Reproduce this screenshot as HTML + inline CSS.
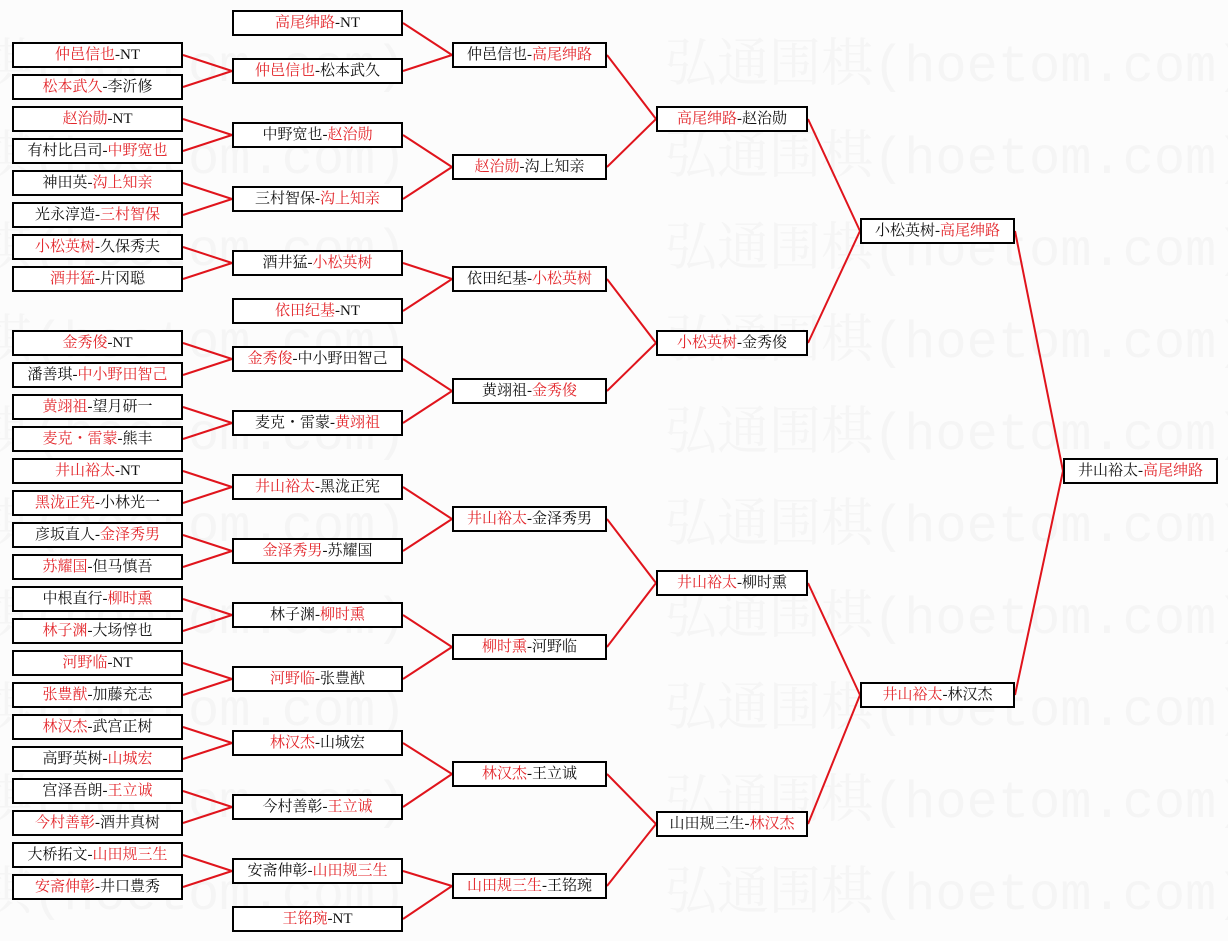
<!DOCTYPE html>
<html><head><meta charset="utf-8">
<style>
html,body{margin:0;padding:0}
body{width:1228px;height:941px;position:relative;background:#fcfcfc;overflow:hidden;font-family:"Liberation Serif","Noto Serif CJK SC",serif}
.wm{position:absolute;font-family:"Liberation Mono","Noto Serif CJK SC",monospace;font-size:52px;color:#f5f5f5;white-space:nowrap;line-height:60px}
.b{position:absolute;height:26px;box-sizing:border-box;border:2px solid #000;background:#fff;font-size:15px;line-height:22px;text-align:center;color:#111;white-space:nowrap}
.c1,.c2{width:171px}.c3{width:155px}.c4{width:152px}.c5,.c6{width:155px}
.c1{left:12px}.c2{left:232px}.c3{left:452px}.c4{left:656px}.c5{left:860px}.c6{left:1063px}
.r{color:#e3262b}
svg{position:absolute;left:0;top:0}
</style></head><body>
<div class="wm" style="left:665px;top:38px">弘通围棋(hoetom.com)</div>
<div class="wm" style="left:665px;top:130px">弘通围棋(hoetom.com)</div>
<div class="wm" style="left:665px;top:222px">弘通围棋(hoetom.com)</div>
<div class="wm" style="left:665px;top:314px">弘通围棋(hoetom.com)</div>
<div class="wm" style="left:665px;top:406px">弘通围棋(hoetom.com)</div>
<div class="wm" style="left:665px;top:498px">弘通围棋(hoetom.com)</div>
<div class="wm" style="left:665px;top:590px">弘通围棋(hoetom.com)</div>
<div class="wm" style="left:665px;top:682px">弘通围棋(hoetom.com)</div>
<div class="wm" style="left:665px;top:774px">弘通围棋(hoetom.com)</div>
<div class="wm" style="left:665px;top:866px">弘通围棋(hoetom.com)</div>
<div class="wm" style="left:-20px;top:38px">棋(hoetom.com)</div>
<div class="wm" style="left:-20px;top:130px">棋(hoetom.com)</div>
<div class="wm" style="left:-20px;top:222px">棋(hoetom.com)</div>
<div class="wm" style="left:-20px;top:314px">棋(hoetom.com)</div>
<div class="wm" style="left:-20px;top:406px">棋(hoetom.com)</div>
<div class="wm" style="left:-20px;top:498px">棋(hoetom.com)</div>
<div class="wm" style="left:-20px;top:590px">棋(hoetom.com)</div>
<div class="wm" style="left:-20px;top:682px">棋(hoetom.com)</div>
<div class="wm" style="left:-20px;top:774px">棋(hoetom.com)</div>
<div class="wm" style="left:-20px;top:866px">棋(hoetom.com)</div>

<svg width="1228" height="941" stroke="#e0141c" stroke-width="2" fill="none">
<path d="M183 55L232 71M183 87L232 71"/>
<path d="M183 119L232 135M183 151L232 135"/>
<path d="M183 183L232 199M183 215L232 199"/>
<path d="M183 247L232 263M183 279L232 263"/>
<path d="M183 343L232 359M183 375L232 359"/>
<path d="M183 407L232 423M183 439L232 423"/>
<path d="M183 471L232 487M183 503L232 487"/>
<path d="M183 535L232 551M183 567L232 551"/>
<path d="M183 599L232 615M183 631L232 615"/>
<path d="M183 663L232 679M183 695L232 679"/>
<path d="M183 727L232 743M183 759L232 743"/>
<path d="M183 791L232 807M183 823L232 807"/>
<path d="M183 855L232 871M183 887L232 871"/>
<path d="M403 23L452 55M403 71L452 55"/>
<path d="M403 135L452 167M403 199L452 167"/>
<path d="M403 263L452 279M403 311L452 279"/>
<path d="M403 359L452 391M403 423L452 391"/>
<path d="M403 487L452 519M403 551L452 519"/>
<path d="M403 615L452 647M403 679L452 647"/>
<path d="M403 743L452 774M403 807L452 774"/>
<path d="M403 871L452 886M403 919L452 886"/>
<path d="M607 55L656 119M607 167L656 119"/>
<path d="M607 279L656 343M607 391L656 343"/>
<path d="M607 519L656 583M607 647L656 583"/>
<path d="M607 774L656 824M607 886L656 824"/>
<path d="M808 119L860 231M808 343L860 231"/>
<path d="M808 583L860 695M808 824L860 695"/>
<path d="M1015 231L1063 471M1015 695L1063 471"/>
</svg>

<div class="b c1" style="top:42px"><span class="r">仲邑信也</span>-NT</div>
<div class="b c1" style="top:74px"><span class="r">松本武久</span>-李沂修</div>
<div class="b c1" style="top:106px"><span class="r">赵治勋</span>-NT</div>
<div class="b c1" style="top:138px">有村比吕司-<span class="r">中野宽也</span></div>
<div class="b c1" style="top:170px">神田英-<span class="r">沟上知亲</span></div>
<div class="b c1" style="top:202px">光永淳造-<span class="r">三村智保</span></div>
<div class="b c1" style="top:234px"><span class="r">小松英树</span>-久保秀夫</div>
<div class="b c1" style="top:266px"><span class="r">酒井猛</span>-片冈聪</div>
<div class="b c1" style="top:330px"><span class="r">金秀俊</span>-NT</div>
<div class="b c1" style="top:362px">潘善琪-<span class="r">中小野田智己</span></div>
<div class="b c1" style="top:394px"><span class="r">黄翊祖</span>-望月研一</div>
<div class="b c1" style="top:426px"><span class="r">麦克・雷蒙</span>-熊丰</div>
<div class="b c1" style="top:458px"><span class="r">井山裕太</span>-NT</div>
<div class="b c1" style="top:490px"><span class="r">黑泷正宪</span>-小林光一</div>
<div class="b c1" style="top:522px">彦坂直人-<span class="r">金泽秀男</span></div>
<div class="b c1" style="top:554px"><span class="r">苏耀国</span>-但马慎吾</div>
<div class="b c1" style="top:586px">中根直行-<span class="r">柳时熏</span></div>
<div class="b c1" style="top:618px"><span class="r">林子渊</span>-大场惇也</div>
<div class="b c1" style="top:650px"><span class="r">河野临</span>-NT</div>
<div class="b c1" style="top:682px"><span class="r">张豊猷</span>-加藤充志</div>
<div class="b c1" style="top:714px"><span class="r">林汉杰</span>-武宫正树</div>
<div class="b c1" style="top:746px">高野英树-<span class="r">山城宏</span></div>
<div class="b c1" style="top:778px">宫泽吾朗-<span class="r">王立诚</span></div>
<div class="b c1" style="top:810px"><span class="r">今村善彰</span>-酒井真树</div>
<div class="b c1" style="top:842px">大桥拓文-<span class="r">山田规三生</span></div>
<div class="b c1" style="top:874px"><span class="r">安斋伸彰</span>-井口豊秀</div>

<div class="b c2" style="top:10px"><span class="r">高尾绅路</span>-NT</div>
<div class="b c2" style="top:58px"><span class="r">仲邑信也</span>-松本武久</div>
<div class="b c2" style="top:122px">中野宽也-<span class="r">赵治勋</span></div>
<div class="b c2" style="top:186px">三村智保-<span class="r">沟上知亲</span></div>
<div class="b c2" style="top:250px">酒井猛-<span class="r">小松英树</span></div>
<div class="b c2" style="top:298px"><span class="r">依田纪基</span>-NT</div>
<div class="b c2" style="top:346px"><span class="r">金秀俊</span>-中小野田智己</div>
<div class="b c2" style="top:410px">麦克・雷蒙-<span class="r">黄翊祖</span></div>
<div class="b c2" style="top:474px"><span class="r">井山裕太</span>-黑泷正宪</div>
<div class="b c2" style="top:538px"><span class="r">金泽秀男</span>-苏耀国</div>
<div class="b c2" style="top:602px">林子渊-<span class="r">柳时熏</span></div>
<div class="b c2" style="top:666px"><span class="r">河野临</span>-张豊猷</div>
<div class="b c2" style="top:730px"><span class="r">林汉杰</span>-山城宏</div>
<div class="b c2" style="top:794px">今村善彰-<span class="r">王立诚</span></div>
<div class="b c2" style="top:858px">安斋伸彰-<span class="r">山田规三生</span></div>
<div class="b c2" style="top:906px"><span class="r">王铭琬</span>-NT</div>

<div class="b c3" style="top:42px">仲邑信也-<span class="r">高尾绅路</span></div>
<div class="b c3" style="top:154px"><span class="r">赵治勋</span>-沟上知亲</div>
<div class="b c3" style="top:266px">依田纪基-<span class="r">小松英树</span></div>
<div class="b c3" style="top:378px">黄翊祖-<span class="r">金秀俊</span></div>
<div class="b c3" style="top:506px"><span class="r">井山裕太</span>-金泽秀男</div>
<div class="b c3" style="top:634px"><span class="r">柳时熏</span>-河野临</div>
<div class="b c3" style="top:761px"><span class="r">林汉杰</span>-王立诚</div>
<div class="b c3" style="top:873px"><span class="r">山田规三生</span>-王铭琬</div>

<div class="b c4" style="top:106px"><span class="r">高尾绅路</span>-赵治勋</div>
<div class="b c4" style="top:330px"><span class="r">小松英树</span>-金秀俊</div>
<div class="b c4" style="top:570px"><span class="r">井山裕太</span>-柳时熏</div>
<div class="b c4" style="top:811px">山田规三生-<span class="r">林汉杰</span></div>

<div class="b c5" style="top:218px">小松英树-<span class="r">高尾绅路</span></div>
<div class="b c5" style="top:682px"><span class="r">井山裕太</span>-林汉杰</div>

<div class="b c6" style="top:458px">井山裕太-<span class="r">高尾绅路</span></div>
</body></html>
